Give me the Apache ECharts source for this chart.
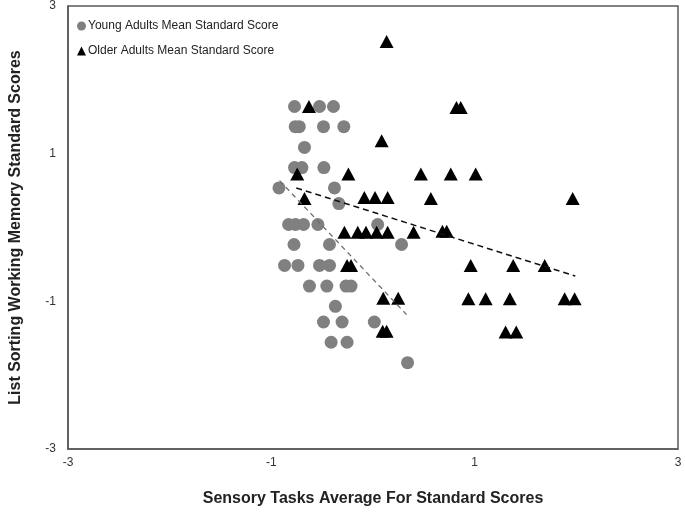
<!DOCTYPE html>
<html>
<head>
<meta charset="utf-8">
<script src="https://cdn.jsdelivr.net/npm/echarts@6/dist/echarts.min.js"></script>
<style>html,body{margin:0;padding:0;background:#fff}#c{width:685px;height:513px}</style>
</head>
<body>
<div id="c"></div>
<script>
// Young adults (x, y)
const youngX = [-0.772,-0.526,-0.389,-0.765,-0.725,-0.487,-0.287,-0.674,-0.772,-0.699,-0.483,-0.925,-0.379,-0.336,-0.830,-0.762,-0.683,-0.542,0.046,-0.777,-0.428,0.281,-0.870,-0.738,-0.526,-0.428,-0.625,-0.454,-0.265,-0.216,-0.370,-0.487,-0.304,0.013,-0.412,-0.255,0.340];
const youngY = [1.639,1.639,1.639,1.365,1.365,1.365,1.365,1.085,0.811,0.811,0.811,0.536,0.536,0.324,0.041,0.041,0.041,0.041,0.041,-0.230,-0.230,-0.230,-0.514,-0.514,-0.514,-0.514,-0.793,-0.793,-0.793,-0.793,-1.068,-1.280,-1.280,-1.280,-1.554,-1.554,-1.831];
// Older adults (x, y)
const olderX = [0.134,0.821,0.863,-0.630,0.085,-0.745,-0.242,0.471,0.765,1.010,-0.674,-0.085,0.020,0.144,0.569,1.964,-0.281,-0.150,-0.069,0.036,0.144,0.399,0.683,0.725,-0.255,-0.216,0.961,1.379,1.689,0.101,0.248,0.938,1.108,1.346,1.885,1.983,0.095,0.134,1.304,1.409];
const olderY = [2.518,1.626,1.626,1.639,1.176,0.726,0.726,0.726,0.726,0.726,0.392,0.405,0.405,0.405,0.392,0.392,-0.064,-0.064,-0.064,-0.064,-0.064,-0.064,-0.050,-0.050,-0.514,-0.514,-0.514,-0.514,-0.514,-0.959,-0.959,-0.964,-0.964,-0.964,-0.964,-0.964,-1.405,-1.405,-1.415,-1.415];
// Trend lines (endpoints)
const youngTrendX = [-0.919, 0.330];
const youngTrendY = [0.635, -1.180];
const olderTrendX = [-0.755, 1.990];
const olderTrendY = [0.536, -0.658];
const axisTicks = [-3, -1, 1, 3];

const zip = (a, b) => a.map((v, i) => [v, b[i]]);
const font = 'Liberation Sans, Arial, sans-serif';

const chart = echarts.init(document.getElementById('c'), null, {renderer: 'canvas'});
chart.setOption({
  animation: false,
  backgroundColor: '#fff',
  grid: {left: 66, right: 7, top: 5, bottom: 64, show: true, borderColor: '#595959', borderWidth: 1.5, containLabel: false},
  legend: {
    orient: 'vertical', left: 72, top: 15, itemGap: 13, itemWidth: 9, itemHeight: 9,
    textStyle: {fontFamily: font, fontSize: 12, color: '#222', padding: [0, 0, 0, -3]},
    data: [
      {name: 'Young Adults Mean Standard Score', icon: 'circle'},
      {name: 'Older Adults Mean Standard Score', icon: 'triangle'}
    ]
  },
  xAxis: {
    type: 'value', min: -3, max: 3, interval: 2,
    axisLine: {show: true, onZero: false, lineStyle: {color: '#595959', width: 1.5}},
    axisTick: {show: false}, splitLine: {show: false},
    axisLabel: {fontFamily: font, fontSize: 12, color: '#333', margin: 8},
    name: 'Sensory Tasks Average For Standard Scores', nameLocation: 'middle', nameGap: 42,
    nameTextStyle: {fontFamily: font, fontSize: 16, fontWeight: 'bold', color: '#222'}
  },
  yAxis: {
    type: 'value', min: -3, max: 3, interval: 2,
    axisLine: {show: true, onZero: false, lineStyle: {color: '#595959', width: 1.5}},
    axisTick: {show: false}, splitLine: {show: false},
    axisLabel: {fontFamily: font, fontSize: 12, color: '#333', margin: 12},
    name: 'List Sorting Working Memory Standard Scores', nameLocation: 'middle', nameGap: 44,
    nameTextStyle: {fontFamily: font, fontSize: 16, fontWeight: 'bold', color: '#222'}
  },
  series: [
    {
      name: 'Young Adults Mean Standard Score', type: 'scatter', symbol: 'circle', symbolSize: 13,
      itemStyle: {color: '#808080', opacity: 1}, data: zip(youngX, youngY), z: 2
    },
    {
      name: 'Older Adults Mean Standard Score', type: 'scatter', symbol: 'triangle', symbolSize: [14, 13],
      itemStyle: {color: '#000', opacity: 1}, data: zip(olderX, olderY), z: 3
    },
    {
      name: 'youngTrend', type: 'line', symbol: 'none', data: zip(youngTrendX, youngTrendY),
      lineStyle: {color: '#6e6e6e', width: 1.3, type: [5, 4]}, z: 4
    },
    {
      name: 'olderTrend', type: 'line', symbol: 'none', data: zip(olderTrendX, olderTrendY),
      lineStyle: {color: '#111', width: 1.5, type: [6, 4]}, z: 4
    }
  ]
});
</script>
</body>
</html>
